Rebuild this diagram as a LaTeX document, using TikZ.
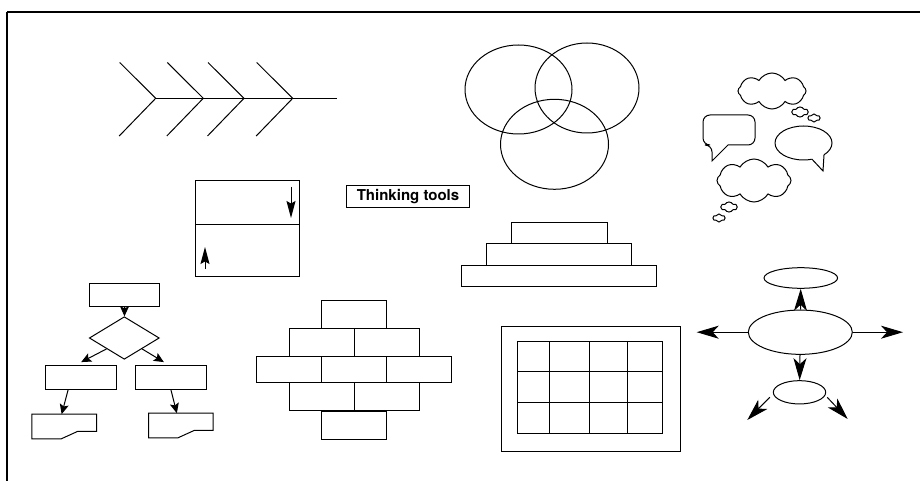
\documentclass[tikz,border=0pt]{standalone}
\usepackage{fontspec}
\setsansfont{TeX Gyre Heros}
\usetikzlibrary{arrows.meta,positioning,shapes.geometric,shapes.symbols}

\begin{document}
\begin{tikzpicture}[x=1pt, y=-1pt, line width=1pt]
%\draw[very thin, color = gray](0, 0) grid (920, 481);
\tikzstyle{box} = [draw, rectangle, inner sep = 0pt, minimum width = 70.5pt, minimum height = 23.4pt]
\tikzstyle{doc} = [rectangle, inner sep = 0pt, minimum width = 63.7pt, minimum height = 23.6pt]
\tikzstyle{oval} = [draw, ellipse, inner sep = 0pt]
\tikzstyle{puff} = [draw, cloud, cloud puffs = 8, cloud puff arc = 120, inner sep = 0pt]
\tikzstyle{line} = [draw, -{Stealth[length = 10pt, width = 9pt, inset = 2pt]}]
\tikzstyle{bigline} = [draw, -{Stealth[length = 22pt, width = 13pt, inset = 6pt]}]
\tikzstyle{flip} = [draw, -{Stealth[length = 17pt, width = 9pt, inset = 2.5pt]}]
\useasboundingbox (0, 0) rectangle (920, 481);

% frame
\draw[line width = 2pt] (7, 12.5) -- (921, 12.5);
\draw[line width = 1.3pt] (7, 12) -- (7, 482);

% fishbone
\draw (155.7, 98.3) -- (336.7, 98.3);
\foreach \fx in {155.7, 203.3, 244, 292.7}
  \draw ({\fx - 36}, 62.5) -- (\fx, 98.3) -- ({\fx - 36.5}, 136);

% venn
\draw (518.5, 89.5) ellipse [x radius = 53.5pt, y radius = 44.5pt];
\draw (587, 88) ellipse [x radius = 52pt, y radius = 45pt];
\draw (554.5, 144.3) ellipse [x radius = 54pt, y radius = 45pt];

% clouds and speech bubbles
\node [puff, minimum width = 68pt, minimum height = 36pt] at (772, 91) (thought) {};
\node [puff, cloud puffs = 6, minimum width = 16pt, minimum height = 10pt] at (800, 112) (dota) {};
\node [puff, cloud puffs = 6, minimum width = 12pt, minimum height = 8pt] at (814, 118) (dotb) {};
\node [puff, minimum width = 74pt, minimum height = 43pt] at (754, 180.5) (dream) {};
\node [puff, cloud puffs = 6, minimum width = 16pt, minimum height = 10pt] at (729, 207) (dotc) {};
\node [puff, cloud puffs = 6, minimum width = 12pt, minimum height = 8pt] at (719, 218) (dotd) {};
\draw (728, 145) [rounded corners = 7pt] -- (755, 145) -- (755, 115) -- (703, 115)
  -- (703, 145) -- (712, 145) [sharp corners] -- (712, 161) -- cycle;
\node [oval, minimum width = 57pt, minimum height = 34pt] at (803.5, 143) (talk) {};
\fill[white] (812, 159.2) -- (823, 171) -- (824, 154.8) -- (822, 153) -- (811, 157.5) -- cycle;
\draw (812, 159.2) -- (823, 171) -- (824, 154.8);

% flip box
\draw (195.7, 180.7) rectangle (299.3, 276);
\draw (195.7, 224) -- (299.3, 224);
\path [flip] (291, 187) -- (291, 218);
\path [flip] (205, 269) -- (205, 247);

\node [draw, inner sep = 0pt, minimum width = 122.6pt, minimum height = 21.6pt,
  font = \sffamily\bfseries\fontsize{15}{18}\selectfont] at (408, 196.5) (title) {Thinking tools};

% steps
\draw (511.7, 222.7) rectangle (607.3, 243.3);
\draw (486.7, 243.3) rectangle (631.7, 265);
\draw (461, 265) rectangle (656, 286);

% flowchart
\node [box] at (124.6, 295) (start) {};
\node [draw, diamond, inner sep = 0pt, minimum width = 70pt, minimum height = 42.6pt] at (124.3, 338) (choice) {};
\node [box] at (81.2, 377.3) (left) {};
\node [box] at (170.85, 377.3) (right) {};
\node [doc] at (64.15, 426.5) (docl) {};
\node [doc] at (180.85, 425.5) (docr) {};
\path [line] (start) -- (choice);
\path [line] (choice.south west) -- ([yshift = 3pt]left.north);
\path [line] (choice.south east) -- ([xshift = -7pt, yshift = 3pt]right.north);
\path [line] ([xshift = -13pt]left.south) -- ([xshift = -2.5pt]docl.north);
\path [line] (right.south) -- ([xshift = -4pt]docr.north);
\foreach \d in {docl, docr}
  \draw (\d.north west) -- (\d.north east) -- ([yshift = 7.5pt]\d.south east)
    -- ([xshift = 46pt, yshift = 7.5pt]\d.south west) -- ([xshift = 29.5pt]\d.south west)
    -- (\d.south west) -- cycle;

% brick wall
\foreach \bx/\by/\bh in {321.7/300/28.3, 289.8/328.3/28.4, 354.8/328.3/28.4,
  256.7/356.7/26, 321.7/356.7/26, 386.7/356.7/26, 289.8/382.7/28, 354.8/382.7/28, 321.7/411/28.5}
  \draw (\bx, \by) rectangle ++(65, \bh);

% grid
\draw (501.7, 326) rectangle (680.8, 451.7);
\draw (517.3, 341.7) rectangle (662.7, 433.3);
\foreach \gx in {549.3, 589.3, 627.7}
  \draw (\gx, 341.7) -- (\gx, 433.3);
\foreach \gy in {371.7, 402.7}
  \draw (517.3, \gy) -- (662.7, \gy);

% mind map
\node [oval, minimum width = 73.6pt, minimum height = 20.6pt] at (800.8, 278) (idea) {};
\node [oval, minimum width = 104pt, minimum height = 44.3pt] at (800.3, 332.2) (hub) {};
\node [oval, minimum width = 52.4pt, minimum height = 23.3pt] at (799.5, 392.3) (sub) {};
\coordinate (west) at (696.7, 332.2);
\coordinate (east) at (903, 332.2);
\coordinate (sw) at (747.3, 420);
\coordinate (se) at (847.7, 419);
\path [bigline] (hub) -- (idea);
\path [bigline] (hub) -- (west);
\path [bigline] (hub) -- (east);
\path [bigline] (hub) -- (sub);
\path [bigline] ([xshift = -3pt, yshift = -5pt]sub.west) -- (sw);
\path [bigline] ([xshift = 1pt, yshift = -5pt]sub.east) -- (se);
\end{tikzpicture}
\end{document}
